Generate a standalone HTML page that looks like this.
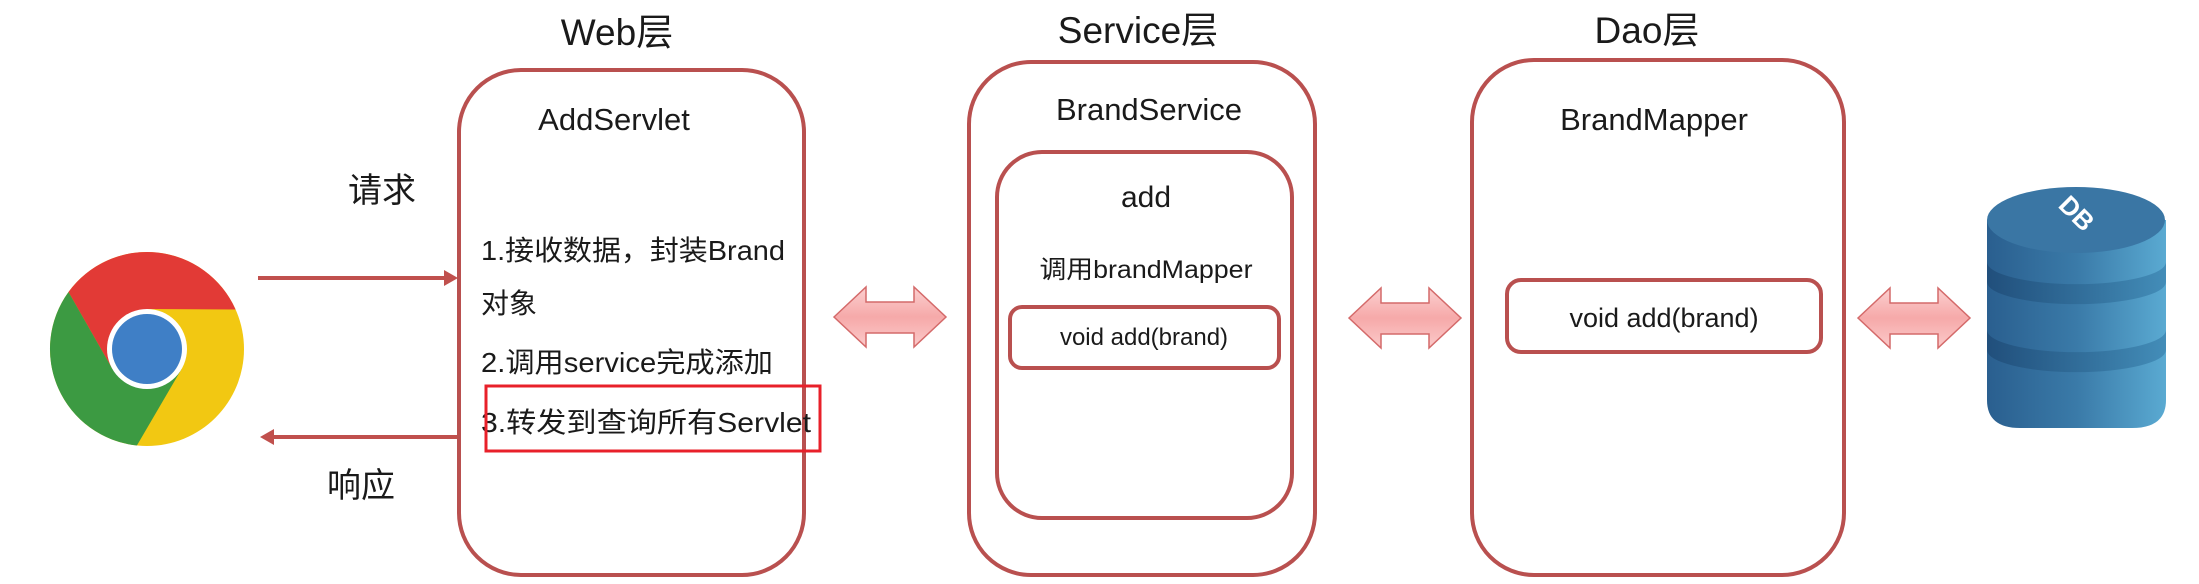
<!DOCTYPE html>
<html><head><meta charset="utf-8"><style>
html,body{margin:0;padding:0;background:#fff;}
svg{display:block;}
text{font-family:"Liberation Sans","Noto Sans CJK SC",sans-serif;fill:#1a1a1a;}
</style></head><body>
<svg width="2199" height="584" viewBox="0 0 2199 584" xmlns="http://www.w3.org/2000/svg">
<defs>
<linearGradient id="pk" x1="0" y1="0" x2="0" y2="1">
<stop offset="0" stop-color="#fbd0d0"/><stop offset="0.5" stop-color="#f6a9a9"/><stop offset="1" stop-color="#fbcaca"/>
</linearGradient>
<linearGradient id="db" x1="0" y1="0" x2="1" y2="0">
<stop offset="0" stop-color="#2a5f8f"/><stop offset="0.5" stop-color="#3a7aa8"/><stop offset="1" stop-color="#5aaad2"/>
</linearGradient>
<linearGradient id="dbd" x1="0" y1="0" x2="1" y2="0">
<stop offset="0" stop-color="#1f4c78"/><stop offset="1" stop-color="#3f88b4"/>
</linearGradient>
</defs>

<!-- Chrome -->
<circle cx="147" cy="349" r="97" fill="#f2c812"/>
<path d="M68.5,292 A97,97 0 0 1 235.6,309.5 L147,309 L147,349 L112.4,369 Z" fill="#e23a36"/>
<path d="M136.9,445.5 A97,97 0 0 1 68.5,292 L112.4,369 L147,349 L181.6,369 Z" fill="#3c9a42"/>
<circle cx="147" cy="349" r="40" fill="#fff"/>
<circle cx="147" cy="349" r="35" fill="#3f7fc6"/>

<!-- request / response arrows -->
<line x1="258" y1="278" x2="446" y2="278" stroke="#c0504d" stroke-width="4"/>
<polygon points="458,278 444,270 444,286" fill="#c0504d"/>
<line x1="272" y1="437" x2="459" y2="437" stroke="#c0504d" stroke-width="4"/>
<polygon points="260,437 274,429 274,445" fill="#c0504d"/>
<text x="348" y="202" font-size="34">请求</text>
<text x="327" y="497" font-size="34">响应</text>

<!-- Web box -->
<text x="617" y="45" font-size="37" text-anchor="middle">Web层</text>
<rect x="459" y="70" width="345" height="505" rx="62" fill="none" stroke="#b9504f" stroke-width="4"/>
<text x="614" y="130" font-size="31" text-anchor="middle">AddServlet</text>
<text x="481" y="260" font-size="28" textLength="304" lengthAdjust="spacingAndGlyphs">1.接收数据，封装Brand</text>
<text x="481" y="313" font-size="28">对象</text>
<text x="481" y="372" font-size="28" textLength="292" lengthAdjust="spacingAndGlyphs">2.调用service完成添加</text>
<text x="481" y="432" font-size="28" textLength="330" lengthAdjust="spacingAndGlyphs">3.转发到查询所有Servlet</text>
<rect x="486" y="386" width="334" height="65" fill="none" stroke="#e8202a" stroke-width="3"/>

<!-- double arrows -->
<g id="da">
<path d="M834,317 L866,287 L866,302 L914,302 L914,287 L946,317 L914,347 L914,333 L866,333 L866,347 Z" fill="url(#pk)" stroke="#d46a6a" stroke-width="1.5"/>
</g>
<use href="#da" transform="translate(515,1)"/>
<use href="#da" transform="translate(1024,1)"/>

<!-- Service box -->
<text x="1138" y="43" font-size="37" text-anchor="middle">Service层</text>
<rect x="969" y="62" width="346" height="513" rx="62" fill="none" stroke="#b9504f" stroke-width="4"/>
<text x="1149" y="120" font-size="31" text-anchor="middle">BrandService</text>
<rect x="997" y="152" width="295" height="366" rx="45" fill="none" stroke="#b9504f" stroke-width="4"/>
<text x="1146" y="207" font-size="30" text-anchor="middle">add</text>
<text x="1146" y="278" font-size="25" text-anchor="middle" textLength="213" lengthAdjust="spacingAndGlyphs">调用brandMapper</text>
<rect x="1010" y="307" width="269" height="61" rx="12" fill="none" stroke="#b9504f" stroke-width="4"/>
<text x="1144" y="345" font-size="24" text-anchor="middle">void add(brand)</text>

<!-- Dao box -->
<text x="1647" y="43" font-size="37" text-anchor="middle">Dao层</text>
<rect x="1472" y="60" width="372" height="515" rx="62" fill="none" stroke="#b9504f" stroke-width="4"/>
<text x="1654" y="130" font-size="31" text-anchor="middle">BrandMapper</text>
<rect x="1507" y="280" width="314" height="72" rx="14" fill="none" stroke="#b9504f" stroke-width="4"/>
<text x="1664" y="327" font-size="27" text-anchor="middle">void add(brand)</text>

<!-- DB -->
<path d="M1987,220 L1987,400 Q1987,428 2020,428 L2132,428 Q2166,428 2166,400 L2166,220 Z" fill="url(#db)"/>
<path d="M1987,262 A89,22 0 0 0 2166,262 L2166,282 A89,22 0 0 1 1987,282 Z" fill="url(#dbd)" opacity="0.85"/>
<path d="M1987,330 A89,22 0 0 0 2166,330 L2166,350 A89,22 0 0 1 1987,350 Z" fill="url(#dbd)" opacity="0.85"/>
<ellipse cx="2076" cy="220" rx="89" ry="33" fill="#3a76a4"/>
<text x="2076" y="222" font-size="26" font-weight="bold" text-anchor="middle" fill="#ffffff" style="fill:#fff" transform="rotate(45 2076 214)">DB</text>
</svg>
</body></html>
